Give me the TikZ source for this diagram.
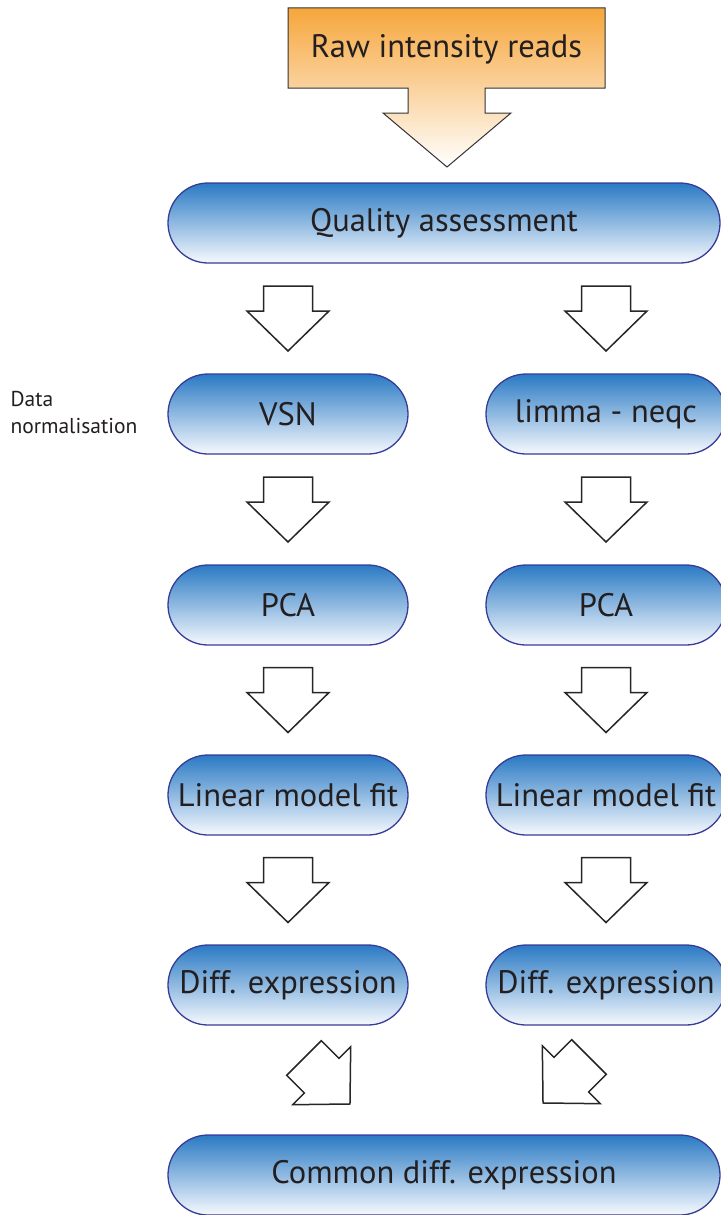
\documentclass[tikz,border=0pt]{standalone}
\usepackage{fontspec}
\setmainfont{PT Sans}
\usetikzlibrary{calc}

\definecolor{txt}{RGB}{35,31,32}
\definecolor{boxtop}{RGB}{42,122,196}
\definecolor{boxbot}{RGB}{246,249,254}
\definecolor{boxline}{RGB}{55,60,150}
\definecolor{rawtop}{RGB}{246,166,60}

\tikzset{
  stepbox/.style={rounded corners=40pt, minimum height=80pt, inner sep=0pt,
    top color=boxtop, bottom color=boxbot, draw=boxline, line width=1.3pt,
    text=txt, font=\fontsize{32.5}{38}\selectfont},
  narrowbox/.style={stepbox, minimum width=240pt},
  widebox/.style={stepbox, minimum width=552pt},
  blockarrow/.pic={
    \draw[line width=1.5pt, draw=black!85, fill=white, line join=miter]
      (0,32.5) -- (41,-7.5) -- (24.5,-7.5) -- (24.5,-32.5)
      -- (-24.5,-32.5) -- (-24.5,-7.5) -- (-41,-7.5) -- cycle;
  }
}

\begin{document}
\begin{tikzpicture}[x=1pt,y=-1pt]
\useasboundingbox (0,0) rectangle (720,1215);

% input block with its downward arrow
\draw[draw=black!80, line width=1pt, top color=rawtop, bottom color=white]
  (288,8) -- (605,8) -- (605,88) -- (485,88) -- (485,113) -- (511,113)
  -- (447,167) -- (383,113) -- (408,113) -- (408,88) -- (288,88) -- cycle;
\node[text=txt, font=\fontsize{32.5}{38}\selectfont] (raw) at (446.5,49) {Raw intensity reads};

% process boxes
\node[widebox] (qa) at (444,223) {Quality assessment};

\node[narrowbox] (vsn) at (288,414) {VSN};
\node[narrowbox] (pcaL) at (288,605) {PCA};
\node[narrowbox] (lmL) at (288,795) {Linear model fit};
\node[narrowbox] (deL) at (288,985) {Diff. expression};

\node[narrowbox] (neqc) at (606,414) {limma - neqc};
\node[narrowbox] (pcaR) at (606,605) {PCA};
\node[narrowbox] (lmR) at (606,795) {Linear model fit};
\node[narrowbox] (deR) at (606,985) {Diff. expression};

\node[widebox] (common) at (444,1175) {Common diff. expression};

\node[anchor=west, align=left, text=txt, font=\fontsize{21.5}{27}\selectfont]
  (norm) at (7,413) {Data\\normalisation};

% block arrows between stages
\pic at ($(qa.south -| vsn)!0.5!(vsn.north)$) {blockarrow};
\pic at ($(qa.south -| neqc)!0.5!(neqc.north)$) {blockarrow};
\pic at ($(vsn.south)!0.5!(pcaL.north)$) {blockarrow};
\pic at ($(neqc.south)!0.5!(pcaR.north)$) {blockarrow};
\pic at ($(pcaL.south)!0.5!(lmL.north)$) {blockarrow};
\pic at ($(pcaR.south)!0.5!(lmR.north)$) {blockarrow};
\pic at ($(lmL.south)!0.5!(deL.north)$) {blockarrow};
\pic at ($(lmR.south)!0.5!(deR.north)$) {blockarrow};

% converging arrows
\pic[rotate=45] at (327,1081) {blockarrow};
\pic[rotate=-45] at (566,1080) {blockarrow};
\end{tikzpicture}
\end{document}
